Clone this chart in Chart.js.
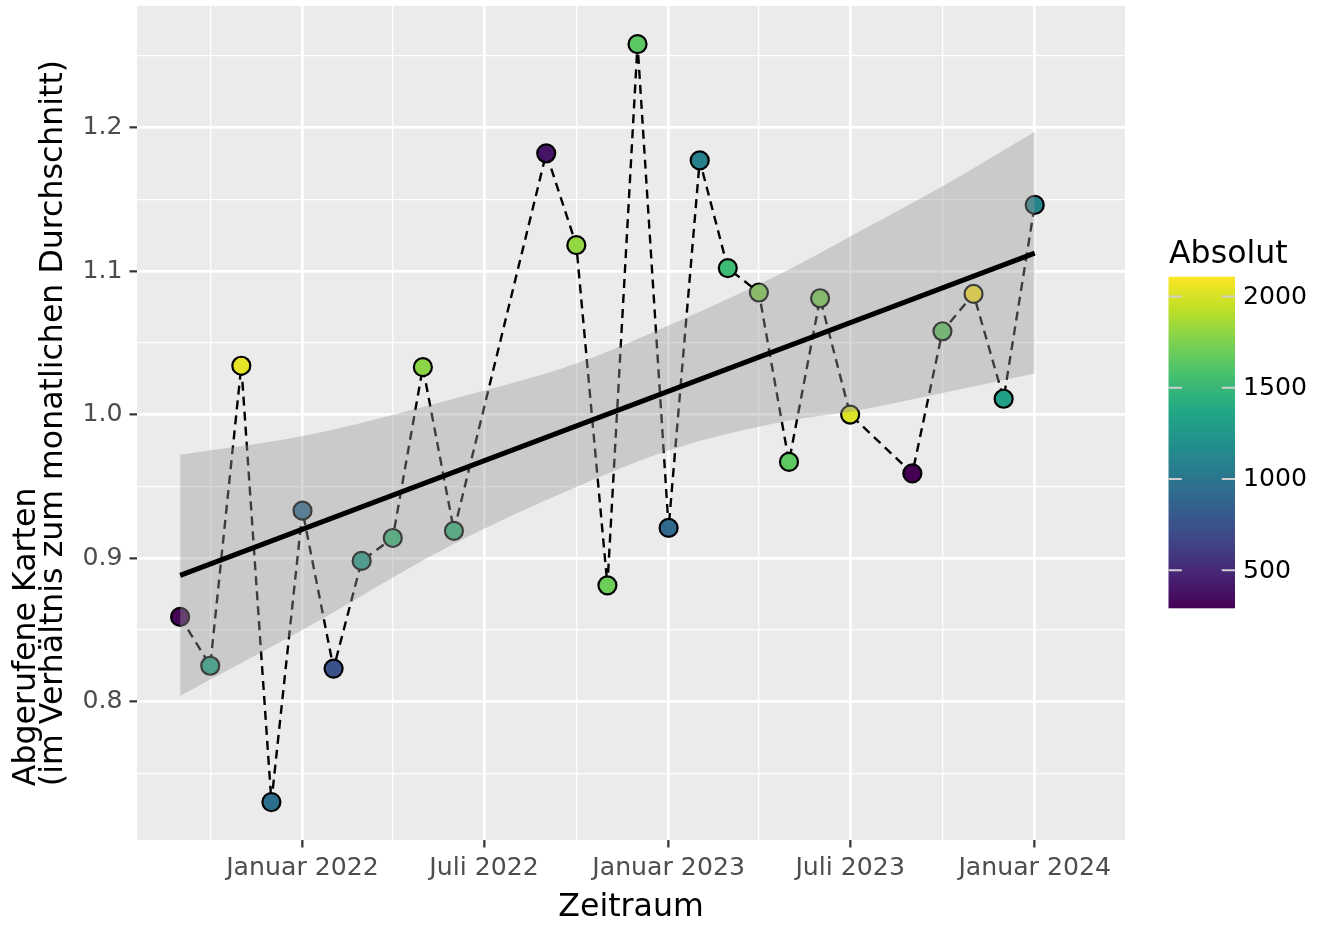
<!DOCTYPE html>
<html>
<head>
<meta charset="utf-8">
<script src="https://cdn.jsdelivr.net/npm/chart.js@4"></script>
<style>
  html, body { margin: 0; padding: 0; background: #ffffff; }
  canvas { display: block; }
</style>
</head>
<body>
<canvas id="chart" width="1324" height="925"></canvas>
<script>
// Monthly observations (first day of each month)
const months = [
  '2021-09','2021-10','2021-11','2021-12',
  '2022-01','2022-02','2022-03','2022-04','2022-05','2022-06',
  '2022-09','2022-10','2022-11','2022-12',
  '2023-01','2023-02','2023-03','2023-04','2023-05','2023-06','2023-07',
  '2023-09','2023-10','2023-11','2023-12',
  '2024-01'
];
// Retrieved maps relative to the monthly average
const ratio = [
  0.859, 0.825, 1.034, 0.730,
  0.933, 0.823, 0.898, 0.914, 1.033, 0.919,
  1.182, 1.118, 0.881, 1.258,
  0.921, 1.177, 1.102, 1.085, 0.967, 1.081, 1.000,
  0.959, 1.058, 1.084, 1.011,
  1.146
];
// Absolute number of retrieved maps (colour scale)
const absolut = [
  310, 1340, 2040, 950,
  930, 740, 1300, 1510, 1790, 1480,
  390, 1810, 1700, 1640,
  900, 1080, 1530, 1760, 1650, 1740, 2010,
  291, 1660, 2108, 1320,
  1110
];

// Linear trend and its confidence band
const trendMonths = ['2021-09', '2024-01'];
const trendValues = [0.888, 1.1125];
const bandMonths = ['2021-09','2022-01','2022-06','2022-10','2023-01','2023-05','2023-07','2023-10','2024-01'];
const bandUpper  = [0.972, 0.985, 1.011, 1.0355, 1.062, 1.101, 1.124, 1.159, 1.197];
const bandLower  = [0.804, 0.850, 0.910, 0.9496, 0.975, 0.9958, 1.002, 1.015, 1.0285];

// Axis breaks and labels
const xMajorMonths = ['2022-01','2022-07','2023-01','2023-07','2024-01'];
const xMajorLabels = ['Januar 2022','Juli 2022','Januar 2023','Juli 2023','Januar 2024'];
const xMinorMonths = ['2021-10','2022-04','2022-10','2023-04','2023-10'];
const yMajor = [0.8, 0.9, 1.0, 1.1, 1.2];
const yMajorLabels = ['0.8', '0.9', '1.0', '1.1', '1.2'];
const yMinor = [0.75, 0.85, 0.95, 1.05, 1.15, 1.25];
const colorbarBreaks = [500, 1000, 1500, 2000];
const colorbarLabels = ['500', '1000', '1500', '2000'];

const xTitle = 'Zeitraum';
const yTitleLines = ['Abgerufene Karten', '(im Verhältnis zum monatlichen Durchschnitt)'];
const legendTitle = 'Absolut';

// ---------------------------------------------------------------------------
const FONT = "'DejaVu Sans', 'Noto Sans', sans-serif";
const TITLE_SIZE = 31.6;
const TEXT_SIZE = 25.2;
const VIRIDIS = ['#440154','#482475','#414487','#355F8D','#2A788E','#21918C',
                 '#22A884','#44BF70','#7AD151','#BDDF26','#FDE725'];

function hexToRgb(h) {
  const n = parseInt(h.slice(1), 16);
  return [(n >> 16) & 255, (n >> 8) & 255, n & 255];
}
function viridis(t) {
  t = Math.max(0, Math.min(1, t));
  const p = t * (VIRIDIS.length - 1);
  const i = Math.min(Math.floor(p), VIRIDIS.length - 2);
  const f = p - i;
  const a = hexToRgb(VIRIDIS[i]), b = hexToRgb(VIRIDIS[i + 1]);
  const c = a.map((v, k) => Math.round(v + (b[k] - v) * f));
  return `rgb(${c[0]},${c[1]},${c[2]})`;
}
function toX(m) {
  return Date.UTC(+m.slice(0, 4), +m.slice(5, 7) - 1, 1);
}

const absMin = Math.min(...absolut);
const absMax = Math.max(...absolut);
const pointColors = absolut.map(v => viridis((v - absMin) / (absMax - absMin)));

const xMajorVals = xMajorMonths.map(toX);
const xMinorVals = xMinorMonths.map(toX);
const isXMajor = v => xMajorVals.some(m => Math.abs(m - v) < 1000);
const isYMajor = v => yMajor.some(m => Math.abs(m - v) < 1e-6);

const PANEL = '#EBEBEB';

// Grey panel background behind the grid
const panelPlugin = {
  id: 'panel',
  beforeDraw(chart) {
    const { ctx, chartArea: a } = chart;
    ctx.save();
    ctx.fillStyle = '#ffffff';
    ctx.fillRect(0, 0, chart.width, chart.height);
    ctx.fillStyle = PANEL;
    ctx.fillRect(a.left, a.top, a.right - a.left, a.bottom - a.top);
    ctx.restore();
  }
};

// Axis titles and the colour bar legend
const decorPlugin = {
  id: 'decor',
  afterDraw(chart) {
    const { ctx, chartArea: a } = chart;
    ctx.save();
    ctx.fillStyle = '#000000';

    // x title
    ctx.font = `${TITLE_SIZE}px ${FONT}`;
    ctx.textAlign = 'center';
    ctx.textBaseline = 'alphabetic';
    ctx.fillText(xTitle, (a.left + a.right) / 2, 916);

    // y title (two lines, rotated)
    const w2 = ctx.measureText(yTitleLines[1]).width;
    const startY = (a.top + a.bottom) / 2 + w2 / 2;
    ctx.save();
    ctx.translate(0, startY);
    ctx.rotate(-Math.PI / 2);
    ctx.textAlign = 'left';
    ctx.fillText(yTitleLines[0], 0, 35);
    ctx.fillText(yTitleLines[1], 0, 62);
    ctx.restore();

    // legend title
    ctx.textAlign = 'left';
    ctx.fillText(legendTitle, 1169, 263);

    // colour bar
    const bx = 1168.5, bw = 66.5, top = 276.7, bottom = 608.3;
    const grad = ctx.createLinearGradient(0, bottom, 0, top);
    for (let i = 0; i <= 40; i++) grad.addColorStop(i / 40, viridis(i / 40));
    ctx.fillStyle = grad;
    ctx.fillRect(bx, top, bw, bottom - top);

    ctx.font = `${TEXT_SIZE}px ${FONT}`;
    ctx.textBaseline = 'middle';
    colorbarBreaks.forEach((v, i) => {
      const y = bottom - (v - absMin) / (absMax - absMin) * (bottom - top);
      ctx.strokeStyle = '#D0D0D0';
      ctx.lineWidth = 2;
      ctx.beginPath();
      ctx.moveTo(bx, y); ctx.lineTo(bx + 13.3, y);
      ctx.moveTo(bx + bw - 13.3, y); ctx.lineTo(bx + bw, y);
      ctx.stroke();
      ctx.fillStyle = '#000000';
      ctx.fillText(colorbarLabels[i], 1243, y + 1);
    });
    ctx.restore();
  }
};

const seriesData = months.map((m, i) => ({ x: toX(m), y: ratio[i] }));
const upperData = bandMonths.map((m, i) => ({ x: toX(m), y: bandUpper[i] }));
const lowerData = bandMonths.map((m, i) => ({ x: toX(m), y: bandLower[i] }));
const trendData = trendMonths.map((m, i) => ({ x: toX(m), y: trendValues[i] }));

new Chart(document.getElementById('chart'), {
  type: 'line',
  data: {
    datasets: [
      {
        label: 'Abgerufene Karten',
        data: seriesData,
        borderColor: '#000000',
        borderWidth: 2.4,
        borderDash: [9, 6],
        pointRadius: 9,
        pointBorderWidth: 2.2,
        pointBorderColor: '#000000',
        pointBackgroundColor: pointColors,
        tension: 0,
        fill: false,
        order: 3
      },
      {
        label: 'Konfidenzband oben',
        data: upperData,
        borderColor: 'rgba(0,0,0,0)',
        borderWidth: 0,
        pointRadius: 0,
        cubicInterpolationMode: 'monotone',
        fill: '+1',
        backgroundColor: 'rgba(153,153,153,0.4)',
        order: 2
      },
      {
        label: 'Konfidenzband unten',
        data: lowerData,
        borderColor: 'rgba(0,0,0,0)',
        borderWidth: 0,
        pointRadius: 0,
        cubicInterpolationMode: 'monotone',
        fill: false,
        order: 2
      },
      {
        label: 'Trend',
        data: trendData,
        borderColor: '#000000',
        borderWidth: 5,
        pointRadius: 0,
        fill: false,
        order: 1
      }
    ]
  },
  options: {
    responsive: false,
    devicePixelRatio: 1,
    animation: false,
    events: [],
    layout: { autoPadding: false, padding: { left: 0, top: 6, right: 199, bottom: 0 } },
    plugins: {
      legend: { display: false },
      tooltip: { enabled: false }
    },
    scales: {
      x: {
        type: 'linear',
        min: Date.UTC(2021, 6, 20),
        max: Date.UTC(2024, 2, 31),
        afterBuildTicks(scale) {
          scale.ticks = [...xMinorVals, ...xMajorVals].sort((a, b) => a - b).map(v => ({ value: v }));
        },
        afterFit(scale) {
          scale.height = 85;
          scale.paddingLeft = 0;
          scale.paddingRight = 0;
        },
        border: { display: false },
        grid: {
          color: '#ffffff',
          lineWidth: c => (c.tick && isXMajor(c.tick.value)) ? 2.7 : 1.3,
          drawTicks: true,
          tickLength: 7.5,
          tickWidth: 2.2,
          tickColor: c => (c.tick && isXMajor(c.tick.value)) ? '#333333' : 'rgba(0,0,0,0)'
        },
        ticks: {
          autoSkip: false,
          maxRotation: 0,
          minRotation: 0,
          padding: 6,
          color: '#4D4D4D',
          font: { family: FONT, size: TEXT_SIZE },
          callback(value) {
            const i = xMajorVals.findIndex(m => Math.abs(m - value) < 1000);
            return i >= 0 ? xMajorLabels[i] : '';
          }
        }
      },
      y: {
        type: 'linear',
        min: 0.7036,
        max: 1.2846,
        afterBuildTicks(scale) {
          scale.ticks = [...yMinor, ...yMajor].sort((a, b) => a - b).map(v => ({ value: v }));
        },
        afterFit(scale) {
          scale.width = 137;
          scale.paddingTop = 0;
          scale.paddingBottom = 0;
        },
        border: { display: false },
        grid: {
          color: '#ffffff',
          lineWidth: c => (c.tick && isYMajor(c.tick.value)) ? 2.7 : 1.3,
          drawTicks: true,
          tickLength: 7.5,
          tickWidth: 2.2,
          tickColor: c => (c.tick && isYMajor(c.tick.value)) ? '#333333' : 'rgba(0,0,0,0)'
        },
        ticks: {
          autoSkip: false,
          padding: 7,
          color: '#4D4D4D',
          font: { family: FONT, size: TEXT_SIZE },
          callback(value) {
            const i = yMajor.findIndex(m => Math.abs(m - value) < 1e-6);
            return i >= 0 ? yMajorLabels[i] : '';
          }
        }
      }
    }
  },
  plugins: [panelPlugin, decorPlugin]
});
</script>
</body>
</html>
